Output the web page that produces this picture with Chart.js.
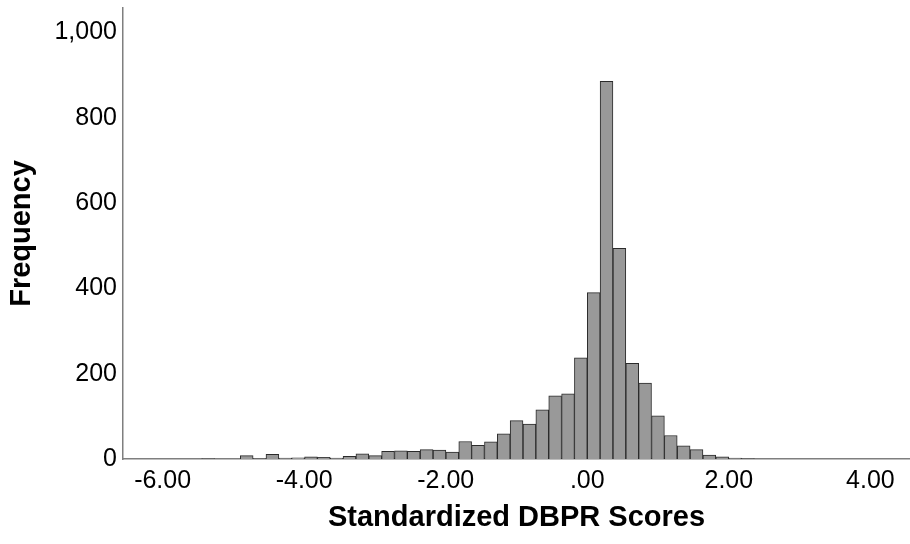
<!DOCTYPE html>
<html>
<head>
<meta charset="utf-8">
<script src="https://cdn.jsdelivr.net/npm/chart.js@4/dist/chart.umd.min.js"></script>
<style>
html,body{margin:0;padding:0;background:#fff;}
#wrap{width:910px;height:544px;}
</style>
</head>
<body>
<div id="wrap"><canvas id="c" width="910" height="544"></canvas></div>
<script>
// Bin midpoints (standardized scores)
const binMidpoints = [-5.357,-5.176,-4.994,-4.812,-4.631,-4.449,-4.268,-4.086,-3.904,-3.723,
  -3.541,-3.360,-3.178,-2.996,-2.815,-2.633,-2.452,-2.270,-2.088,-1.907,
  -1.725,-1.544,-1.362,-1.180,-0.999,-0.817,-0.636,-0.454,-0.272,-0.091,
  0.091,0.272,0.454,0.636,0.817,0.999,1.180,1.362,1.544,1.725,1.907,2.088,2.270];
// Frequencies per bin
const frequencies = [1,0,0,8,1,11,2,3,5,4,
  2,6,12,8,18,19,18,22,21,16,
  41,32,40,59,90,82,115,148,153,237,
  390,885,494,224,178,101,55,31,22,9,5,2,1];
const xTickValues = [-6,-4,-2,0,2,4];
const yTickValues = [0,200,400,600,800,1000];

const points = binMidpoints.map((x,i)=>({x:x,y:frequencies[i]}));

function fmtX(v){
  const s = Math.abs(v).toFixed(2);
  return (v<0?'-':'') + (s.startsWith('0') ? s.slice(1) : s);
}

new Chart(document.getElementById('c'), {
  type: 'bar',
  data: {
    datasets: [{
      data: points,
      backgroundColor: '#999999',
      borderColor: '#2b2b2b',
      borderWidth: 1,
      categoryPercentage: 1.0,
      barPercentage: 1.0
    }]
  },
  options: {
    responsive: false,
    animation: false,
    devicePixelRatio: 1,
    layout: {padding: {top: 8, right: 0, left: 0, bottom: 0}},
    plugins: {legend: {display: false}, tooltip: {enabled: false}},
    scales: {
      x: {
        type: 'linear',
        min: -6.56,
        max: 4.56,
        offset: false,
        grid: {display: false, drawTicks: false, offset: false},
        border: {display: true, color: '#7f7f7f', width: 1.5},
        afterBuildTicks: (s) => { s.ticks = xTickValues.map(v=>({value:v})); },
        afterFit: (s) => { s.height = 85; s.paddingLeft = 0; s.paddingRight = 0; },
        ticks: {
          autoSkip: false,
          maxRotation: 0,
          padding: 7,
          color: '#000',
          font: {family: 'Liberation Sans, Arial, sans-serif', size: 25},
          callback: (v) => fmtX(v)
        },
        title: {
          display: true,
          text: 'Standardized DBPR Scores',
          color: '#000',
          font: {family: 'Liberation Sans, Arial, sans-serif', size: 29, weight: 'bold'},
          padding: {top: 0, bottom: 9}
        }
      },
      y: {
        min: 0,
        max: 1057,
        grid: {display: false, drawTicks: false},
        border: {display: true, color: '#7f7f7f', width: 1.5},
        afterBuildTicks: (s) => { s.ticks = yTickValues.map(v=>({value:v})); },
        afterFit: (s) => { s.width = 123; s.paddingTop = 0; s.paddingBottom = 0; },
        ticks: {
          padding: 6,
          color: '#000',
          font: {family: 'Liberation Sans, Arial, sans-serif', size: 25},
          callback: (v) => v.toLocaleString('en-US')
        },
        title: {
          display: true,
          text: 'Frequency',
          color: '#000',
          font: {family: 'Liberation Sans, Arial, sans-serif', size: 29, weight: 'bold'},
          padding: {top: 5, bottom: 0}
        }
      }
    }
  }
});
</script>
</body>
</html>
